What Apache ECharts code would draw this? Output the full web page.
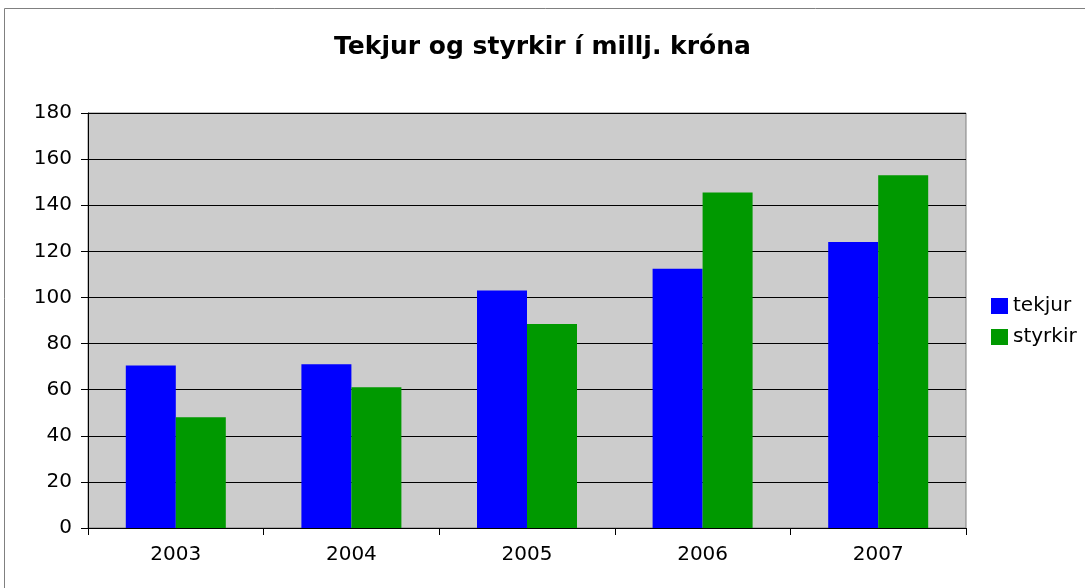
<!DOCTYPE html>
<html><head><meta charset="utf-8">
<script src="https://cdn.jsdelivr.net/npm/echarts@6/dist/echarts.min.js"></script>
<style>html,body{margin:0;padding:0;background:#fff}#c{width:1085px;height:588px}</style>
</head><body><div id="c"></div>
<script>
const categories = ['2003','2004','2005','2006','2007'];
const tekjur = [70.5, 71, 103, 112.5, 124];
const styrkir = [48, 61, 88.5, 145.5, 153];
const seriesNames = ['tekjur','styrkir'];
const font = '"DejaVu Sans", Verdana, sans-serif';
const chart = echarts.init(document.getElementById('c'), null, {renderer:'canvas'});
chart.setOption({
  animation:false,
  backgroundColor:'#ffffff',
  title:{text:'Tekjur og styrkir í millj. króna', left:'center', top:30,
    textStyle:{fontFamily:font, fontWeight:'bold', fontSize:25, color:'#000'}},
  legend:{orient:'vertical', left:986, top:291, itemWidth:17, itemHeight:16, itemGap:11,
    icon:'rect', textStyle:{fontFamily:font, fontSize:20, color:'#000'},
    data:seriesNames},
  grid:{left:88, right:119, top:113, bottom:60, show:true, backgroundColor:'#cccccc', borderColor:'#808080', borderWidth:1},
  xAxis:{type:'category', data:categories,
    axisLine:{lineStyle:{color:'#000', width:1}},
    axisTick:{show:true, length:7, lineStyle:{color:'#000'}},
    axisLabel:{fontFamily:font, fontSize:20, color:'#000', margin:17}},
  yAxis:{type:'value', min:0, max:180, interval:20,
    axisLine:{show:true, lineStyle:{color:'#000'}},
    axisTick:{show:true, length:7, lineStyle:{color:'#000'}},
    splitLine:{lineStyle:{color:'#000', width:1}},
    axisLabel:{fontFamily:font, fontSize:20, color:'#000', margin:16}},
  series:[
    {name:seriesNames[0], type:'bar', data:tekjur, barWidth:50, barGap:'0%', itemStyle:{color:'#0000ff'}},
    {name:seriesNames[1], type:'bar', data:styrkir, barWidth:50, barGap:'0%', itemStyle:{color:'#009900'}}
  ],
  graphic:[{type:'rect', shape:{x:4.5, y:8.5, width:1200, height:700}, style:{fill:null, stroke:'#808080', lineWidth:1}, silent:true, z:-1}]
});
</script></body></html>
